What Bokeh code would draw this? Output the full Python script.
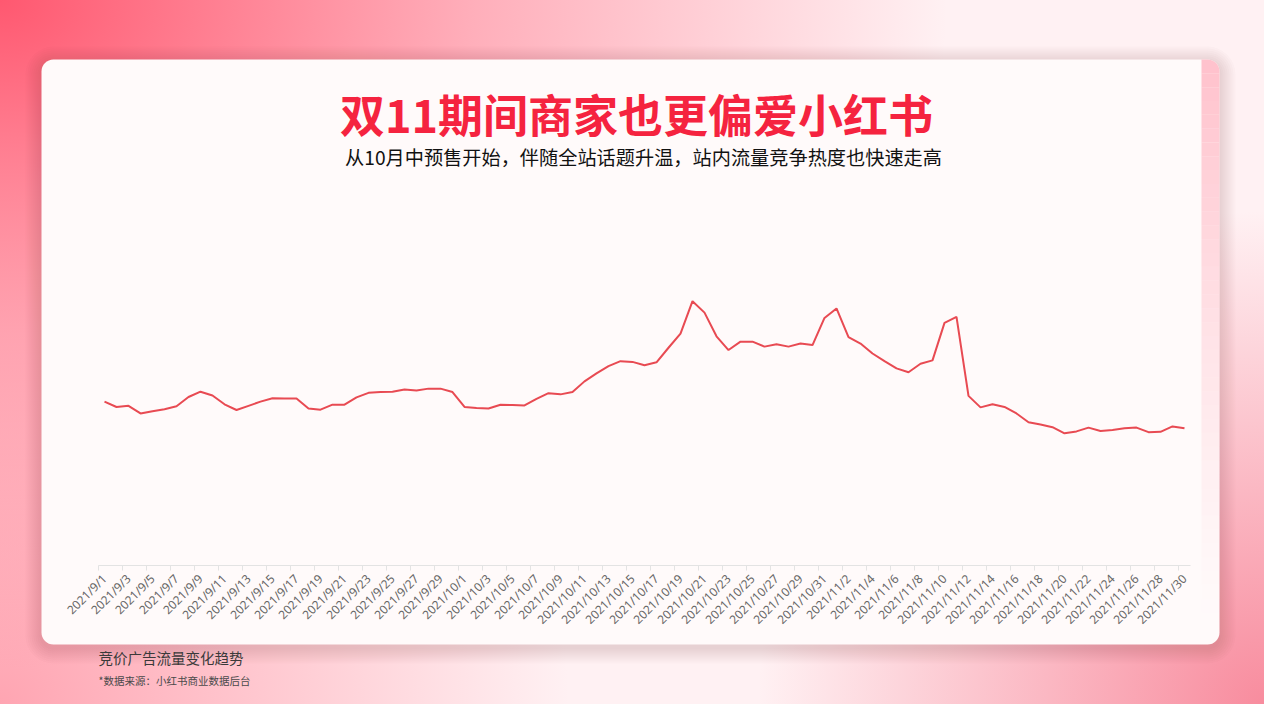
from math import pi
import datetime as dt
from bokeh.plotting import figure
from bokeh.models import Range1d, BoxAnnotation, Label
from bokeh.core.properties import value
from bokeh.embed import file_html
from bokeh.resources import INLINE

# ---------------- data ----------------
start_day = dt.date(2021, 9, 1)
n_days = 91
date_labels = [f"{d.year}/{d.month}/{d.day}"
               for d in (start_day + dt.timedelta(days=i) for i in range(n_days))]

sep_values = [42.9, 41.5, 41.8, 39.8, 40.4, 40.9, 41.7, 44.1, 45.5, 44.5,
              42.2, 40.7, 41.8, 42.9, 43.8, 43.7, 43.7, 41.1, 40.8, 42.1,
              42.1, 44.0, 45.2, 45.4, 45.5, 46.1, 45.8, 46.3, 46.3, 45.4]
oct_values = [41.5, 41.2, 41.1, 42.1, 42.0, 41.9, 43.6, 45.1, 44.8, 45.4,
              48.2, 50.3, 52.2, 53.5, 53.3, 52.4, 53.2, 57.0, 60.7, 69.2,
              66.2, 60.0, 56.4, 58.6, 58.6, 57.3, 57.9, 57.3, 58.1, 57.7, 64.8]
nov_values = [67.3, 59.8, 58.1, 55.5, 53.5, 51.6, 50.6, 52.8, 53.7, 63.5,
              65.1, 44.4, 41.4, 42.2, 41.5, 39.8, 37.5, 36.9, 36.2, 34.6,
              35.1, 36.1, 35.2, 35.5, 35.9, 36.1, 34.9, 35.0, 36.4, 35.9]
values = sep_values + oct_values + nov_values
idx = list(range(len(values)))
y_min, y_max = 0, 100

title_text = "双11期间商家也更偏爱小红书"
subtitle_text = "从10月中预售开始，伴随全站话题升温，站内流量竞争热度也快速走高"
chart_name = "竞价广告流量变化趋势"
source_text = "*数据来源：小红书商业数据后台"

# ---------------- layout (page pixels, minus the 8px body margin) ----------------
OFF = 8
W, H = 1264, 704
AX_L, AX_R = 106 - OFF, 1198 - OFF      # category axis extent
AX_Y, TOP_Y = 573 - OFF, 191 - OFF      # axis line / top of value scale
CARD_L, CARD_R, CARD_T, CARD_B = 49 - OFF, 1227 - OFF, 67 - OFF, 652 - OFF

bg = ("radial-gradient(ellipse 75% 95% at 0% 0%, rgba(255,88,112,1) 0%, "
      "rgba(255,120,140,0.55) 50%, rgba(255,150,165,0) 100%), "
      "radial-gradient(ellipse 40% 70% at 100% 100%, rgba(248,140,158,1) 0%, "
      "rgba(248,140,158,0) 100%), "
      "radial-gradient(ellipse 45% 80% at 0% 100%, rgba(255,165,178,1) 0%, "
      "rgba(255,165,178,0) 100%), #fff1f3")

# frame covers the whole canvas; default ranges are pixel positions (y downwards)
p = figure(width=W, height=H, output_backend="svg", toolbar_location=None,
           x_range=Range1d(0, W), y_range=Range1d(H, 0),
           x_axis_location=None, y_axis_location=None,
           min_border=0, min_border_left=0, min_border_right=0,
           min_border_top=0, min_border_bottom=0)
p.styles = {"background": bg}
p.title.visible = False
p.outline_line_color = None
p.background_fill_alpha = 0
p.border_fill_alpha = 0
for g in p.grid:
    g.visible = False

# data ranges for the chart, aligned on the axis extent
n = len(values)
px_per_cat = (AX_R - AX_L) / n
dx0 = -0.5 - AX_L / px_per_cat
p.extra_x_ranges = {"dx": Range1d(dx0, dx0 + W / px_per_cat)}
px_per_val = (AX_Y - TOP_Y) / (y_max - y_min)
p.extra_y_ranges = {"dy": Range1d(y_min - (H - AX_Y) / px_per_val,
                                  y_max + TOP_Y / px_per_val)}

# card shadow
for k in range(1, 9):
    p.add_layout(BoxAnnotation(left=CARD_L - k * 2, right=CARD_R + k * 2,
                               top=CARD_T - k * 2 + 3, bottom=CARD_B + k * 2 + 3,
                               fill_color="#7a2a3c", fill_alpha=0.018,
                               line_color=None, border_radius=12 + k * 2,
                               level="underlay"))
# card
p.add_layout(BoxAnnotation(left=CARD_L, right=CARD_R, top=CARD_T, bottom=CARD_B,
                           fill_color="#fffafa", fill_alpha=1, line_color=None,
                           border_radius=12, level="underlay"))
# pink strip on the right edge of the card, fading downwards
n_seg = 40
strip_l = 1209 - OFF
seg_h = (620 - 67) / n_seg
for s in range(n_seg):
    a = 0.95 * (1 - s / n_seg) ** 1.3
    p.add_layout(BoxAnnotation(left=strip_l, right=CARD_R,
                               top=CARD_T + s * seg_h, bottom=CARD_T + (s + 1) * seg_h,
                               fill_color="#ffbfca", fill_alpha=a, line_color=None,
                               border_radius=(0, 12, 0, 0) if s == 0 else 0,
                               level="underlay"))

# texts
p.add_layout(Label(x=644 - OFF, y=121 - OFF, text=title_text, text_align="center",
                   text_baseline="middle", text_font="Noto Sans CJK SC",
                   text_font_style="bold", text_font_size="45px",
                   text_color="#f5233f"))
p.add_layout(Label(x=651 - OFF, y=164 - OFF, text=subtitle_text, text_align="center",
                   text_baseline="middle", text_font="Noto Sans CJK SC",
                   text_font_size="19.2px", text_color="#111111"))
p.add_layout(Label(x=106 - OFF, y=665 - OFF, text=chart_name, text_align="left",
                   text_baseline="middle", text_font="Noto Sans CJK SC",
                   text_font_size="14.5px", text_color="#3a3a3a"))
p.add_layout(Label(x=106 - OFF, y=688 - OFF, text=source_text, text_align="left",
                   text_baseline="middle", text_font="Noto Sans CJK SC",
                   text_font_size="10.5px", text_color="#4a4a4a"))

# category axis: line, boundary ticks every other day, rotated labels
major = idx[::2]
bounds = [i - 0.5 for i in major]
p.segment(x0=[-0.5], x1=[n - 0.5], y0=[AX_Y], y1=[AX_Y], x_range_name="dx",
          line_color="#e3e3e3", line_width=1)
p.segment(x0=bounds, x1=bounds, y0=[AX_Y] * len(bounds), y1=[AX_Y + 5] * len(bounds),
          x_range_name="dx", line_color="#e3e3e3", line_width=1)
p.text(x=major, y=[AX_Y + 11] * len(major), text=[date_labels[i] for i in major],
       angle=pi / 4, text_align="right", text_baseline="middle",
       x_range_name="dx", text_font=value("Noto Sans"), text_font_size="12px",
       text_color="#666666")

# the series
p.line(idx, values, x_range_name="dx", y_range_name="dy",
       line_color="#e84a52", line_width=2)

open("out.html", "w").write(file_html(p, INLINE))
